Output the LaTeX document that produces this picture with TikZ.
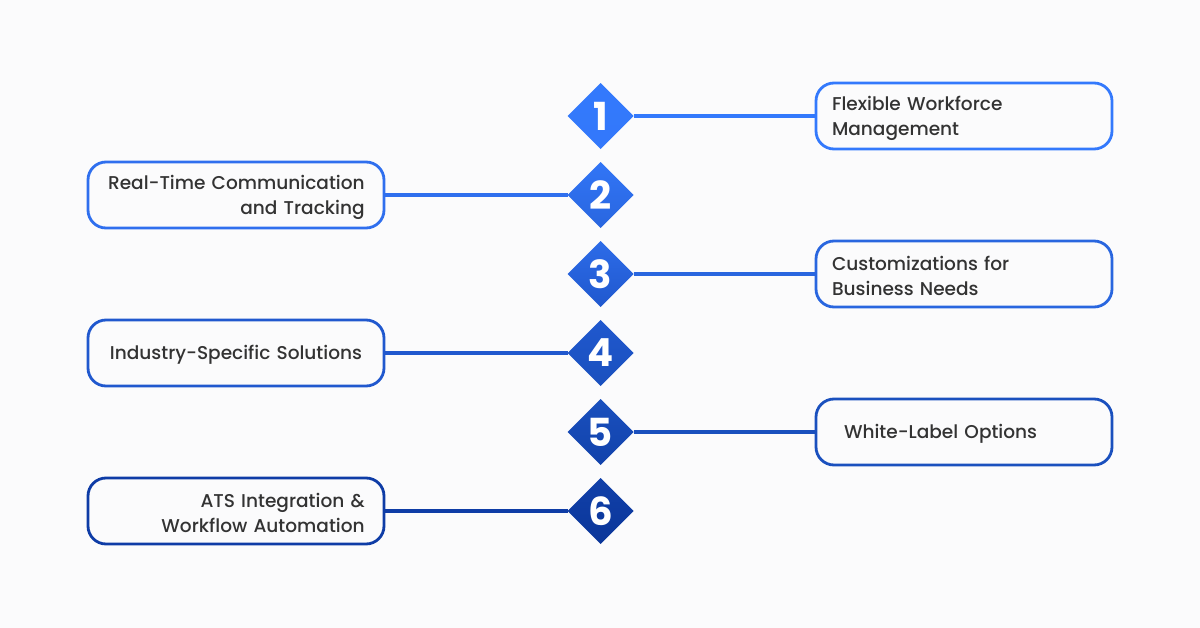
\documentclass[tikz,border=0pt]{standalone}
\usepackage{fontspec}
\setmainfont{Poppins Medium}
\setsansfont{Poppins}
\usetikzlibrary{shapes.geometric}
\definecolor{bgc}{HTML}{FBFBFC}
\definecolor{txt}{HTML}{333333}
\definecolor{ca}{HTML}{3379FC}\definecolor{cb}{HTML}{2F6FEE}
\definecolor{cc}{HTML}{2966DF}\definecolor{cd}{HTML}{2058CE}
\definecolor{ce}{HTML}{1A50BE}\definecolor{cf}{HTML}{1446AE}
\definecolor{cg}{HTML}{0E3CA6}\definecolor{ch}{HTML}{0B3699}
\tikzset{
 x=0.75pt,y=-0.75pt,
 boxnode/.style={draw=#1,line width=2.1pt,rounded corners=13.5pt,fill=bgc,minimum height=49.5pt,
   text=txt,font=\fontsize{13.9}{18.75}\selectfont,inner ysep=0pt,outer sep=0pt,
   execute at begin node={\hyphenpenalty=10000\rule{0pt}{14pt}}},
 lbox/.style={text width=222pt-2*#1,inner xsep=#1,minimum width=222pt},
 dia/.style 2 args={diamond,aspect=1,inner sep=0pt,outer sep=0pt,minimum width=49.5pt,minimum height=49.5pt,
   top color=#1,bottom color=#2,text=white,font=\sffamily\fontsize{29}{29}\selectfont\bfseries},
 link/.style={draw=#1,line width=2.4pt}
}
\begin{document}
\begin{tikzpicture}
\useasboundingbox (0,0) rectangle (1200,628);
\fill[bgc] (0,0) rectangle (1200,628);
\node[dia={ca}{ca!92!cb}] (d1) at (600.5,116) {1};
\node[dia={ca!60!cb}{cc}] (d2) at (600.5,195) {2};
\node[dia={cb!60!cc}{cd}] (d3) at (600.5,274) {3};
\node[dia={cd}{ce}] (d4) at (600.5,353) {4};
\node[dia={ce}{cf!60!cg}] (d5) at (600.5,432) {5};
\node[dia={cf!40!cg}{ch}] (d6) at (600.5,511) {6};
\node[boxnode=ca,lbox=12pt,align=left] (b1) at (964,116) {Flexible Workforce\\Management};
\node[boxnode=cb,lbox=14.5pt,align=right] (b2) at (236,195) {Real-Time Communication\\and Tracking};
\node[boxnode=cc,lbox=12pt,align=left] (b3) at (964,274) {Customizations for\\Business Needs};
\node[boxnode=cd,lbox=12pt,align=center] (b4) at (236,353) {Industry-Specific Solutions};
\node[boxnode=ce,lbox=21pt,align=left] (b5) at (964,432) {White-Label Options};
\node[boxnode=cg,lbox=14.5pt,align=right] (b6) at (236,511) {ATS Integration \&\\Workflow Automation};
\draw[link=ca] (d1) -- (b1);
\draw[link=cb] (b2) -- (d2);
\draw[link=cc] (d3) -- (b3);
\draw[link=cd] (b4) -- (d4);
\draw[link=ce] (d5) -- (b5);
\draw[link=cg] (b6) -- (d6);
\end{tikzpicture}
\end{document}
